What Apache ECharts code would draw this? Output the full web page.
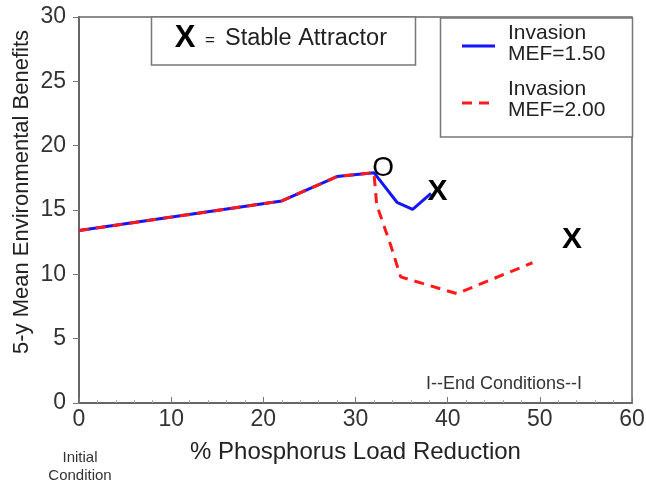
<!DOCTYPE html>
<html>
<head>
<meta charset="utf-8">
<script src="https://cdn.jsdelivr.net/npm/echarts@6/dist/echarts.min.js"></script>
<style>html,body{margin:0;padding:0;background:#fff}#c{width:646px;height:486px}</style>
</head>
<body>
<div id="c"></div>
<script>
// ---- data ----
var seriesNames = ['Invasion\nMEF=1.50', 'Invasion\nMEF=2.00'];
var blueX = [0, 22, 28, 32, 34.5, 36.2, 38.2];
var blueY = [13.4, 15.7, 17.6, 17.9, 15.6, 15.05, 16.3];
var redX = [0, 22, 28, 32, 32.3, 33.8, 34.9, 41.0, 49.2];
var redY = [13.4, 15.7, 17.6, 17.9, 15.4, 12.3, 9.8, 8.5, 10.9];
var markerX = [33.0, 38.9, 53.5];
var markerY = [18.25, 16.4, 12.7];
var markerText = ['O', 'X', 'X'];
var xTicks = [0, 10, 20, 30, 40, 50, 60];
var yTicks = [0, 5, 10, 15, 20, 25, 30];

function pairs(xs, ys) { return xs.map(function (x, i) { return [x, ys[i]]; }); }

var FONT = '"Liberation Sans", Arial, Helvetica, sans-serif';
var chart = echarts.init(document.getElementById('c'), null, {renderer: 'canvas'});

var markerData = pairs(markerX, markerY).map(function (d, i) {
  var isO = markerText[i] === 'O';
  return {
    value: d,
    label: {
      show: true, position: 'inside', formatter: markerText[i],
      color: '#000', opacity: 1, textBorderWidth: 0, fontFamily: FONT,
      fontSize: isO ? 28 : 30, fontWeight: isO ? 'normal' : 'bold'
    }
  };
});

var option = {
  backgroundColor: '#fff',
  animation: false,
  textStyle: {fontFamily: FONT},
  grid: {left: 79, right: 14, top: 17, bottom: 83, show: true, borderColor: '#666', borderWidth: 1.5,
         containLabel: false, outerBoundsMode: 'none'},
  xAxis: {
    type: 'value', min: xTicks[0], max: xTicks[xTicks.length - 1], interval: 10,
    name: '% Phosphorus Load Reduction', nameLocation: 'middle', nameGap: 37,
    nameTextStyle: {fontSize: 24, color: '#222', fontFamily: FONT},
    axisLine: {show: true, onZero: false, lineStyle: {color: '#666', width: 2}},
    axisTick: {show: true, inside: true, length: 6, lineStyle: {color: '#777', width: 1}},
    minorTick: {show: true, splitNumber: 5, length: 3, lineStyle: {color: '#aaa', width: 1}},
    axisLabel: {fontSize: 23, color: '#333', margin: 5, fontFamily: FONT},
    splitLine: {show: false}
  },
  yAxis: {
    type: 'value', min: yTicks[0], max: yTicks[yTicks.length - 1], interval: 5,
    axisLine: {show: true, onZero: false, lineStyle: {color: '#666', width: 2}},
    axisTick: {show: true, inside: false, length: 6, lineStyle: {color: '#777', width: 1}},
    axisLabel: {fontSize: 23, color: '#333', margin: 13, fontFamily: FONT},
    splitLine: {show: false}
  },
  series: [
    {
      name: seriesNames[0], type: 'line', data: pairs(blueX, blueY), showSymbol: false, symbol: 'none',
      lineStyle: {color: '#1414ff', width: 3}, itemStyle: {color: '#1414ff'}, z: 2
    },
    {
      name: seriesNames[1], type: 'line', data: pairs(redX, redY), showSymbol: false, symbol: 'none',
      lineStyle: {color: '#ff1a1a', width: 3, type: [10, 7]}, itemStyle: {color: '#ff1a1a'}, z: 3
    },
    {
      name: 'markers', type: 'scatter', data: markerData, symbol: 'circle', symbolSize: 0.01,
      itemStyle: {color: '#000'}, z: 5
    }
  ],
  graphic: [
    // y axis name
    {type: 'text', x: 22, y: 192, rotation: Math.PI / 2,
     style: {text: '5-y Mean Environmental Benefits', font: '22px ' + FONT, fill: '#222',
             textAlign: 'center', textVerticalAlign: 'middle'}},
    // annotation box
    {type: 'rect', shape: {x: 151.5, y: 17, width: 264, height: 48},
     style: {fill: '#fff', stroke: '#777', lineWidth: 1.5}, z: 10},
    {type: 'text', x: 185, y: 38, z: 11,
     style: {text: 'X', font: 'bold 31px ' + FONT, fill: '#000', textAlign: 'center', textVerticalAlign: 'middle'}},
    {type: 'text', x: 210, y: 40, z: 11,
     style: {text: '=', font: '17px ' + FONT, fill: '#222', textAlign: 'center', textVerticalAlign: 'middle'}},
    {type: 'text', x: 225, y: 39, z: 11,
     style: {text: 'Stable Attractor', font: '23.5px ' + FONT, fill: '#222', textAlign: 'left', textVerticalAlign: 'middle'}},
    // legend box
    {type: 'rect', shape: {x: 440.5, y: 18, width: 192, height: 119},
     style: {fill: '#fff', stroke: '#777', lineWidth: 1.5}, z: 10},
    {type: 'line', shape: {x1: 462, y1: 46, x2: 495, y2: 46}, z: 11,
     style: {stroke: '#1414ff', lineWidth: 3}},
    {type: 'text', x: 508, y: 44, z: 11,
     style: {text: seriesNames[0], font: '21px ' + FONT, lineHeight: 21, fill: '#222', textAlign: 'left', textVerticalAlign: 'middle'}},
    {type: 'line', shape: {x1: 462, y1: 103, x2: 495, y2: 103}, z: 11,
     style: {stroke: '#ff1a1a', lineWidth: 3, lineDash: [10, 7]}},
    {type: 'text', x: 508, y: 100, z: 11,
     style: {text: seriesNames[1], font: '21px ' + FONT, lineHeight: 21, fill: '#222', textAlign: 'left', textVerticalAlign: 'middle'}},
    // end conditions
    {type: 'text', x: 504, y: 384, z: 11,
     style: {text: 'I--End Conditions--I', font: '18px ' + FONT, fill: '#333', textAlign: 'center', textVerticalAlign: 'middle'}},
    // initial condition
    {type: 'text', x: 80, y: 467, z: 11,
     style: {text: 'Initial\nCondition', font: '15px ' + FONT, lineHeight: 18, fill: '#333', textAlign: 'center', textVerticalAlign: 'middle'}}
  ]
};
chart.setOption(option);
</script>
</body>
</html>
